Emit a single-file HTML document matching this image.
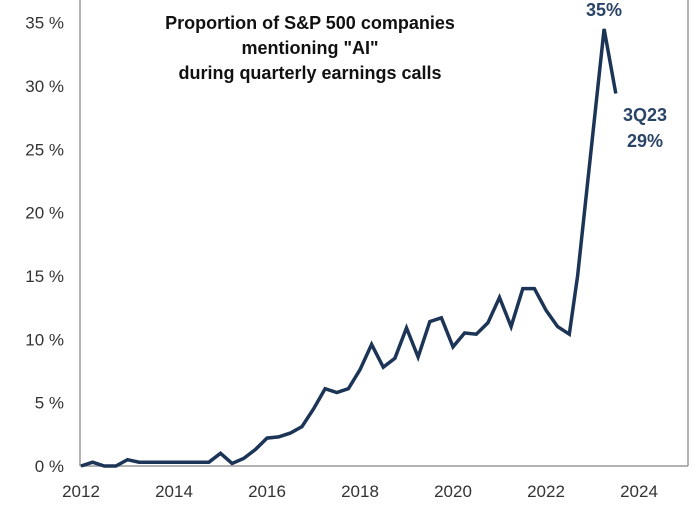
<!DOCTYPE html>
<html><head><meta charset="utf-8"><style>
html,body{margin:0;padding:0;background:#fff;}
svg{display:block;font-family:"Liberation Sans",Arial,sans-serif;}
</style></head><body>
<svg id="chart" width="696" height="522"></svg>
<script>
const years = [2012,2012.25,2012.5,2012.75,2013,2013.25,2013.5,2013.75,2014,2014.25,2014.5,2014.75,2015,2015.25,2015.5,2015.75,2016,2016.25,2016.5,2016.75,2017,2017.25,2017.5,2017.75,2018,2018.25,2018.5,2018.75,2019,2019.25,2019.5,2019.75,2020,2020.25,2020.5,2020.75,2021,2021.25,2021.5,2021.75,2022,2022.25,2022.5,2022.68,2023.25,2023.5];
const values = [0,0.3,0,0,0.5,0.3,0.3,0.3,0.3,0.3,0.3,0.3,1.0,0.2,0.6,1.3,2.2,2.3,2.6,3.1,4.5,6.1,5.8,6.1,7.6,9.6,7.8,8.5,10.9,8.6,11.4,11.7,9.4,10.5,10.4,11.3,13.3,11.0,14.0,14.0,12.3,11.0,10.4,15.0,34.5,29.4];
const yTicks = [0,5,10,15,20,25,30,35];
const xTicks = [2012,2014,2016,2018,2020,2022,2024];
const NS="http://www.w3.org/2000/svg";
const svg=document.getElementById('chart');
const X=v=>81+(v-2012)*46.5;
const Y=v=>466-v*12.67;
function mk(t,a,p){const e=document.createElementNS(NS,t);for(const k in a)e.setAttribute(k,a[k]);(p||svg).appendChild(e);return e;}
let e;
e=mk('line',{x1:80,y1:0,x2:80,y2:466,stroke:'#999','stroke-width':1.5});


e=mk('line',{x1:80,y1:466,x2:688,y2:466,stroke:'#999','stroke-width':1.5});


e=mk('line',{x1:688,y1:0,x2:688,y2:466,stroke:'#999','stroke-width':1.5});


yTicks.forEach(v=>{
  const t=mk('text',{x:64,y:Y(v)+6,'text-anchor':'end','font-size':17,fill:'#333'});
  t.textContent=v+' %';
  
  
});
xTicks.forEach(v=>{
  const t=mk('text',{x:X(v),y:497,'text-anchor':'middle','font-size':17,fill:'#333'});
  t.textContent=v;
  
  
});
const d=years.map((y,i)=>(i?'L':'M')+X(y).toFixed(1)+','+Y(values[i]).toFixed(1)).join('');
e=mk('path',{d:d,fill:'none',stroke:'#1c3557','stroke-width':3.5,'stroke-linejoin':'miter'});


const title=["Proportion of S&P 500 companies","mentioning \"AI\"","during quarterly earnings calls"];
title.forEach((s,i)=>{
  const t=mk('text',{x:310,y:29+i*25,'text-anchor':'middle','font-size':18,'font-weight':'bold',fill:'#111'});
  t.textContent=s;
  
  
});
[["35%",604,16,'peak-label'],["3Q23",645,121,'latest-quarter-label'],["29%",645,147,'latest-value-label']].forEach(a=>{
  const t=mk('text',{x:a[1],y:a[2],'text-anchor':'middle','font-size':18,'font-weight':'bold',fill:'#2a4466'});
  t.textContent=a[0];
  
  
});
</script>
</body></html>
